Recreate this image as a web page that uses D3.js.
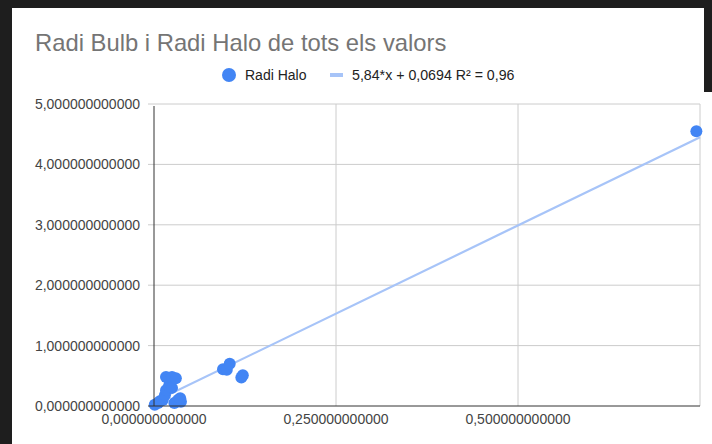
<!DOCTYPE html>
<html>
<head>
<meta charset="utf-8">
<script src="https://cdn.jsdelivr.net/npm/d3@7"></script>
<style>
  body { margin: 0; background: #fff; }
  svg { display: block; font-family: Arial, "Liberation Sans", sans-serif; }
</style>
</head>
<body>
<div id="chart"></div>
<script>
// Radi Bulb (x) vs Radi Halo (y)
const radiBulb = [0.001, 0.0055, 0.008, 0.012, 0.015, 0.0165, 0.0206, 0.022, 0.0247, 0.0165, 0.0247, 0.030, 0.028, 0.033, 0.037, 0.036, 0.0948, 0.100, 0.104, 0.120, 0.122, 0.745];
const radiHalo = [0.02, 0.05, 0.08, 0.10, 0.18, 0.26, 0.33, 0.40, 0.30, 0.48, 0.48, 0.46, 0.05, 0.10, 0.07, 0.13, 0.61, 0.60, 0.70, 0.47, 0.51, 4.55];
const xTicks = [0, 0.25, 0.5, 0.75];
const yTicks = [0, 1, 2, 3, 4, 5];
const trend = { slope: 5.84, intercept: 0.0694 };
const title = 'Radi Bulb i Radi Halo de tots els valors';
const legendLabels = ['Radi Halo', '5,84*x + 0,0694 R\u00b2 = 0,96'];

const width = 712;
const height = 444;
const margin = { top: 104, right: 12, bottom: 38, left: 154 };

const points = radiBulb.map((x, i) => ({ x, y: radiHalo[i] }));
const fmt = v => v.toFixed(12).replace('.', ',');

const svg = d3.select('#chart').append('svg')
  .attr('width', width)
  .attr('height', height);

const x = d3.scaleLinear().domain([0, 0.75]).range([margin.left, width - margin.right]);
const y = d3.scaleLinear().domain([0, 5]).range([height - margin.bottom, margin.top]);

// gridlines
svg.append('g')
  .selectAll('line')
  .data(yTicks.slice(1))
  .join('line')
  .attr('x1', x(0) - 6)
  .attr('x2', x(0.75))
  .attr('y1', d => y(d))
  .attr('y2', d => y(d))
  .attr('stroke', '#cccccc');

svg.append('g')
  .selectAll('line')
  .data(xTicks.slice(1))
  .join('line')
  .attr('x1', d => x(d))
  .attr('x2', d => x(d))
  .attr('y1', y(5))
  .attr('y2', y(0))
  .attr('stroke', '#cccccc');

// trendline
svg.append('line')
  .attr('x1', x(0))
  .attr('y1', y(trend.intercept))
  .attr('x2', x(0.75))
  .attr('y2', y(trend.slope * 0.75 + trend.intercept))
  .attr('stroke', '#a7c4f8')
  .attr('stroke-width', 2.2);

// points
svg.append('g')
  .selectAll('circle')
  .data(points)
  .join('circle')
  .attr('cx', d => x(d.x))
  .attr('cy', d => y(d.y))
  .attr('r', 6)
  .attr('fill', '#4285f4');

// axes lines
svg.append('line')
  .attr('x1', x(0)).attr('x2', x(0))
  .attr('y1', y(5) + 2).attr('y2', y(0))
  .attr('stroke', '#333').attr('stroke-width', 1);
svg.append('line')
  .attr('x1', x(0) - 6).attr('x2', x(0.75))
  .attr('y1', y(0)).attr('y2', y(0))
  .attr('stroke', '#333').attr('stroke-width', 1);

// y labels
svg.append('g')
  .selectAll('text')
  .data(yTicks)
  .join('text')
  .attr('x', x(0) - 14)
  .attr('y', d => y(d) + 5)
  .attr('text-anchor', 'end')
  .attr('font-size', 14)
  .attr('fill', '#444')
  .text(fmt);

// x labels (last one is not shown)
svg.append('g')
  .selectAll('text')
  .data(xTicks.slice(0, 3))
  .join('text')
  .attr('x', d => x(d))
  .attr('y', y(0) + 18)
  .attr('text-anchor', 'middle')
  .attr('font-size', 14)
  .attr('fill', '#444')
  .text(fmt);

// title
svg.append('text')
  .attr('x', 35)
  .attr('y', 51)
  .attr('font-size', 23.8)
  .attr('fill', '#757575')
  .text(title);

// legend
const $leg = svg.append('g').attr('transform', 'translate(0,75)');
$leg.append('circle').attr('cx', 229).attr('cy', 0).attr('r', 7).attr('fill', '#4285f4');
$leg.append('text').attr('x', 245).attr('y', 5).attr('font-size', 14).attr('fill', '#222').text(legendLabels[0]);
$leg.append('rect').attr('x', 330).attr('y', -2).attr('width', 13).attr('height', 4).attr('fill', '#a7c4f8');
$leg.append('text').attr('x', 352).attr('y', 5).attr('font-size', 14.2).attr('fill', '#222').text(legendLabels[1]);

// dark frame around the screenshot
svg.append('rect').attr('x', 0).attr('y', 0).attr('width', width).attr('height', 8).attr('fill', '#1e1e1e');
svg.append('rect').attr('x', 0).attr('y', 0).attr('width', 12).attr('height', height).attr('fill', '#1e1e1e');
svg.append('rect').attr('x', 704).attr('y', 0).attr('width', 8).attr('height', 92).attr('fill', '#1e1e1e');
</script>
</body>
</html>
